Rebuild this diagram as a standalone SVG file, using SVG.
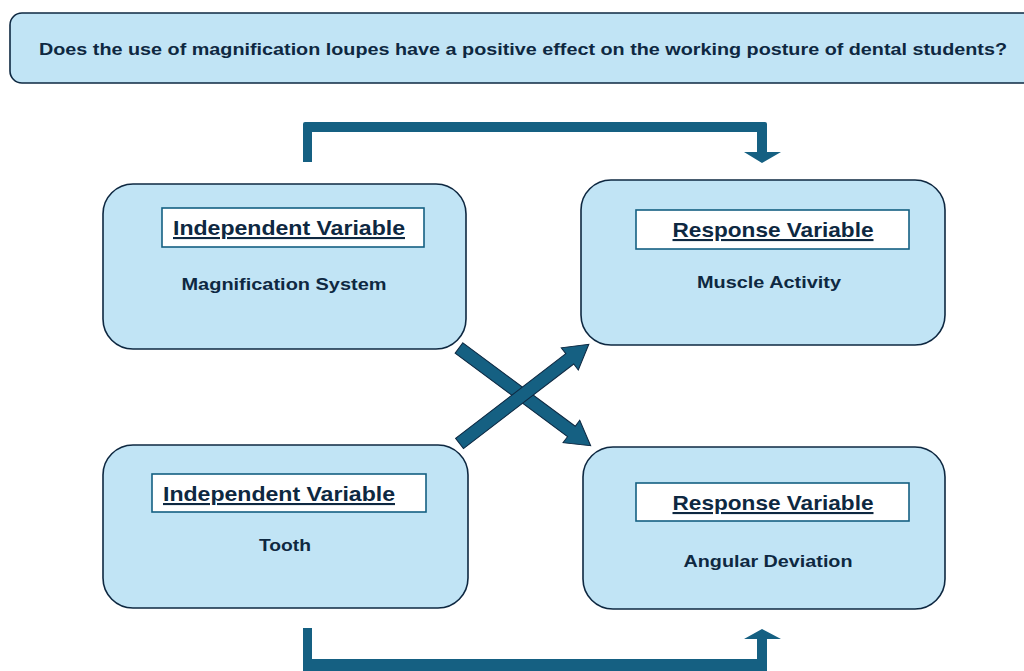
<svg xmlns="http://www.w3.org/2000/svg" width="1024" height="671" viewBox="0 0 1024 671">
  <style>
    .card { fill: #c1e4f5; stroke: #0e2841; stroke-width: 1.6; }
    .tag { fill: #ffffff; stroke: #156082; stroke-width: 1.6; }
    .t { font-family: "Liberation Sans", Arial, sans-serif; font-weight: bold; fill: #0e2841; text-anchor: middle; }
    .head { font-size: 21px; text-decoration: underline; }
    .sub { font-size: 17px; }
    .flow { fill: #156082; }
    .cross { fill: #156082; stroke: #0e2841; stroke-width: 1; }
  </style>

  <!-- research question banner -->
  <g id="question">
    <rect x="10" y="13" width="1030" height="70" rx="12" class="card"/>
    <text x="523" y="55" class="t" font-size="17" textLength="968" lengthAdjust="spacingAndGlyphs">Does the use of magnification loupes have a positive effect on the working posture of dental students?</text>
  </g>

  <g id="iv-magnification">
    <rect x="103" y="184" width="363" height="165" rx="30" class="card"/>
    <rect x="162" y="208" width="262" height="39" class="tag"/>
    <text x="289" y="235" class="t head" textLength="232" lengthAdjust="spacingAndGlyphs">Independent Variable</text>
    <text x="284" y="290" class="t sub" textLength="205" lengthAdjust="spacingAndGlyphs">Magnification System</text>
  </g>

  <g id="rv-muscle">
    <rect x="581" y="180" width="364" height="165" rx="30" class="card"/>
    <rect x="636" y="210" width="273" height="39" class="tag"/>
    <text x="773" y="237" class="t head" textLength="201" lengthAdjust="spacingAndGlyphs">Response Variable</text>
    <text x="769" y="288" class="t sub" textLength="144" lengthAdjust="spacingAndGlyphs">Muscle Activity</text>
  </g>

  <g id="iv-tooth">
    <rect x="103" y="445" width="365" height="163" rx="30" class="card"/>
    <rect x="152" y="474" width="274" height="38" class="tag"/>
    <text x="279" y="501" class="t head" textLength="232" lengthAdjust="spacingAndGlyphs">Independent Variable</text>
    <text x="285" y="551" class="t sub" textLength="52" lengthAdjust="spacingAndGlyphs">Tooth</text>
  </g>

  <g id="rv-angular">
    <rect x="583" y="447" width="362" height="162" rx="30" class="card"/>
    <rect x="636" y="483" width="273" height="38" class="tag"/>
    <text x="773" y="510" class="t head" textLength="201" lengthAdjust="spacingAndGlyphs">Response Variable</text>
    <text x="768" y="567" class="t sub" textLength="169" lengthAdjust="spacingAndGlyphs">Angular Deviation</text>
  </g>

  <g id="connectors">
    <!-- upper bent arrow -->
    <path class="flow" d="M303,162 V124 Q303,122 305,122 H765 Q767,122 767,124 V152 H781 L762,163 L744,152 H757 V132 H312 V162 Z"/>
    <!-- lower bent arrow -->
    <path class="flow" d="M303,628 H312 V659 H757 V639 H744 L762,629 L781,639 H767 V671 H303 Z"/>
    <!-- crossing arrows -->
    <path class="cross" transform="translate(459,348) rotate(36.6)" d="M0,-6.5 H140 V-14 L164,0 L140,14 V6.5 H0 Z"/>
    <path class="cross" transform="translate(459.5,443.5) rotate(-37.5)" d="M0,-6.5 H139 V-14 L163,0 L139,14 V6.5 H0 Z"/>
  </g>
</svg>
